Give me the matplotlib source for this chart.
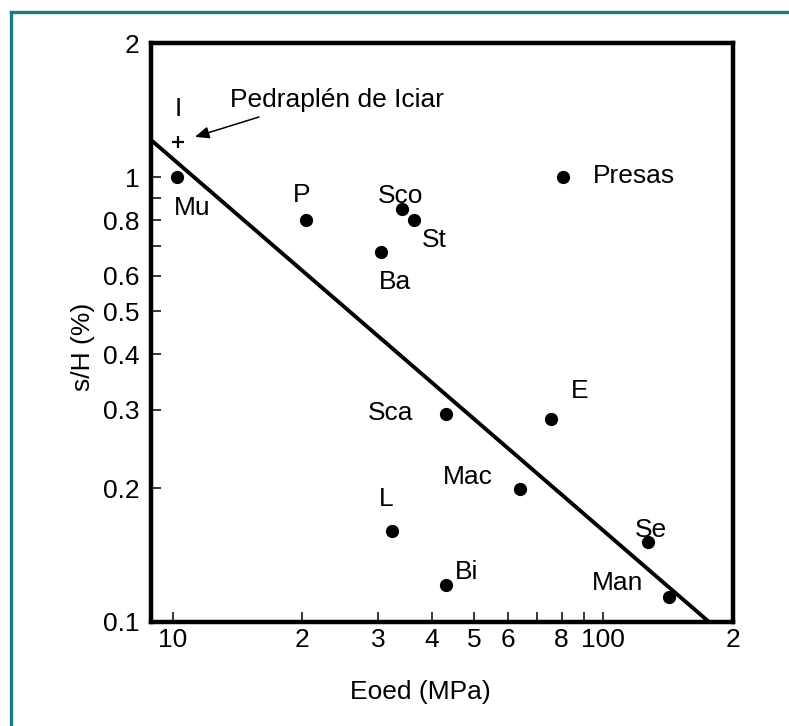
import matplotlib
matplotlib.use("Agg")
import matplotlib.pyplot as plt
from matplotlib.lines import Line2D
from matplotlib.ticker import FixedLocator, FixedFormatter, NullLocator

plt.rcParams['font.family'] = ['Liberation Sans', 'DejaVu Sans']

# data -----------------------------------------------------------------------
names = ['Mu', 'P', 'Sco', 'St', 'Ba', 'Presas', 'Sca', 'E', 'Mac', 'Se', 'Man', 'Bi', 'L']
eoed = [10.2, 20.4, 34.1, 36.3, 30.4, 80.7, 43.0, 75.5, 64.1, 127.0, 142.0, 43.0, 32.2]
s_h = [1.00, 0.80, 0.85, 0.80, 0.68, 1.00, 0.294, 0.286, 0.199, 0.151, 0.114, 0.121, 0.160]

iciar_eoed = [10.3]
iciar_sh = [1.20]

fit_eoed = [8.92, 176.0]
fit_sh = [1.21, 0.10]

xticks = [10, 20, 30, 40, 50, 60, 70, 80, 90, 100, 200]
xticklabels = ['10', '2', '3', '4', '5', '6', '', '8', '', '100', '2']
yticks = [0.1, 0.2, 0.3, 0.4, 0.5, 0.6, 0.7, 0.8, 0.9, 1, 2]
yticklabels = ['0.1', '0.2', '0.3', '0.4', '0.5', '0.6', '', '0.8', '', '1', '2']

# label placement (offset points, horizontal alignment)
label_pos = {
    'Mu': (11, -22, 'center'), 'P': (-3, 18.5, 'center'), 'Sco': (-1, 9, 'center'),
    'St': (15, -14, 'center'), 'Ba': (10, -22, 'center'), 'Presas': (21.5, 1, 'left'),
    'Sca': (-23.5, 0.5, 'right'), 'E': (21, 20.5, 'center'), 'Mac': (-38, 9, 'center'),
    'Se': (2, 9, 'center'), 'Man': (-37, 9.5, 'center'), 'Bi': (15, 9.5, 'center'),
    'L': (-3.5, 23.5, 'center'),
}

fs = 19

fig = plt.figure(figsize=(7.89, 7.26), dpi=100)
ax = fig.add_axes([0.192, 0.1433, 0.737, 0.797])
ax.set_xscale('log')
ax.set_yscale('log')

ax.plot(fit_eoed, fit_sh, color='k', lw=2.8, solid_capstyle='butt', zorder=2)
ax.plot(eoed, s_h, 'o', color='k', ms=8.5, zorder=3)
ax.plot(iciar_eoed, iciar_sh, '+', color='k', ms=9, mew=1.6, zorder=3)

for name, x, y in zip(names, eoed, s_h):
    dx, dy, ha = label_pos[name]
    ax.annotate(name, (x, y), xytext=(dx, dy), textcoords='offset points',
                ha=ha, va='center', fontsize=fs)

# Iciar point, its label and arrow
ax.annotate('I', (iciar_eoed[0], iciar_sh[0]), xytext=(0, 23.5),
            textcoords='offset points', ha='center', va='center', fontsize=fs)
ax.annotate('Pedraplén de Iciar', (iciar_eoed[0], iciar_sh[0]), xytext=(37.5, 30.5),
            textcoords='offset points', ha='left', va='center', fontsize=fs)
ax.annotate('', (iciar_eoed[0], iciar_sh[0]), xytext=(58, 18), textcoords='offset points',
            arrowprops=dict(arrowstyle='-|>,head_length=0.85,head_width=0.36',
                            mutation_scale=10, color='k', lw=1.1,
                            shrinkA=0, shrinkB=12.5))

ax.set_xlim(8.92, 200)
ax.set_ylim(0.1, 2)

ax.xaxis.set_major_locator(FixedLocator(xticks))
ax.xaxis.set_major_formatter(FixedFormatter(xticklabels))
ax.xaxis.set_minor_locator(NullLocator())
ax.yaxis.set_major_locator(FixedLocator(yticks))
ax.yaxis.set_major_formatter(FixedFormatter(yticklabels))
ax.yaxis.set_minor_locator(NullLocator())

ax.tick_params(which='major', direction='in', length=7, width=1.1, labelsize=fs, colors='k')
ax.tick_params(axis='x', pad=4)
ax.tick_params(axis='y', pad=8.5)

for sp in ax.spines.values():
    sp.set_linewidth(3.2)
    sp.set_capstyle('projecting')

ax.set_xlabel('Eoed (MPa)', fontsize=fs)
ax.xaxis.label.set_verticalalignment('center')
ax.xaxis.set_label_coords(0.462, -0.121)
ax.set_ylabel('s/H (%)', fontsize=fs)
ax.yaxis.label.set_verticalalignment('center')
ax.yaxis.set_label_coords(-0.118, 0.475)

# teal frame of the original figure (only top and left edges visible)
teal = '#1f7b7b'
fx = 11 / 789
fy = 1 - 12 / 726
fig.add_artist(Line2D([fx, fx], [0, fy], transform=fig.transFigure, color=teal, lw=2.4,
                      solid_capstyle='projecting'))
fig.add_artist(Line2D([fx, 1], [fy, fy], transform=fig.transFigure, color=teal, lw=2.4,
                      solid_capstyle='projecting'))

fig.savefig('out.png', dpi=100, facecolor='white')
